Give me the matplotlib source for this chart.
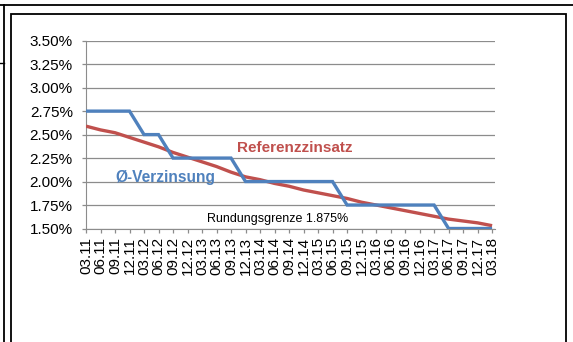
import matplotlib.pyplot as plt
from matplotlib.lines import Line2D
from matplotlib.patches import Rectangle

plt.rcParams['font.family'] = ['Liberation Sans', 'DejaVu Sans']

# quarters 03.11 .. 03.18
quarters = ['03.11', '06.11', '09.11', '12.11', '03.12', '06.12', '09.12', '12.12',
            '03.13', '06.13', '09.13', '12.13', '03.14', '06.14', '09.14', '12.14',
            '03.15', '06.15', '09.15', '12.15', '03.16', '06.16', '09.16', '12.16',
            '03.17', '06.17', '09.17', '12.17', '03.18']

# average interest (step values, %)
verzinsung = [2.75, 2.75, 2.75, 2.75, 2.50, 2.50, 2.25, 2.25,
              2.25, 2.25, 2.25, 2.00, 2.00, 2.00, 2.00, 2.00,
              2.00, 2.00, 1.75, 1.75, 1.75, 1.75, 1.75, 1.75,
              1.75, 1.50, 1.50, 1.50, 1.50]

# reference rate (%)
referenz = [2.59, 2.55, 2.52, 2.47, 2.42, 2.37, 2.31, 2.26,
            2.21, 2.16, 2.10, 2.05, 2.02, 1.98, 1.95, 1.91,
            1.88, 1.85, 1.82, 1.78, 1.75, 1.72, 1.69, 1.66,
            1.63, 1.60, 1.58, 1.56, 1.53]

yticks = [1.50, 1.75, 2.00, 2.25, 2.50, 2.75, 3.00, 3.25, 3.50]

W, H = 573, 342
fig = plt.figure(figsize=(W / 100, H / 100), dpi=100)

def px(x0, y0, x1, y1):
    # pixel box (from top-left) -> figure fraction rect
    return [x0 / W, 1 - y1 / H, (x1 - x0) / W, (y1 - y0) / H]

# page / frame lines around the chart
fig.add_artist(Line2D([0, 1], [1 - 5 / H] * 2, color='black', lw=1.3))
fig.add_artist(Line2D([4 / W] * 2, [0, 1 - 5 / H], color='black', lw=1.3))
fig.add_artist(Line2D([0, 4 / W], [1 - 63 / H] * 2, color='black', lw=1.0))
fig.add_artist(Rectangle((11 / W, -0.05), (566 - 11) / W, 1 - 14 / H + 0.05,
                         transform=fig.transFigure, fill=False,
                         edgecolor='black', lw=1.3))

ax = fig.add_axes(px(86, 40.7, 495, 228.5))
x = list(range(len(quarters)))
ax.plot(x, referenz, color='#C0504D', lw=2.4, solid_capstyle='butt', zorder=3)
ax.plot(x, verzinsung, color='#4F81BD', lw=2.4, solid_capstyle='butt',
        solid_joinstyle='miter', zorder=4)

ax.set_xlim(0, 28.2)
ax.set_ylim(1.5, 3.5)
ax.set_yticks(yticks)
ax.set_yticklabels(['%.2f%%' % v for v in yticks], fontsize=11)
ax.set_xticks(x)
ax.set_xticklabels(quarters, rotation=90, fontsize=11)
ax.grid(axis='y', color='#8C8C8C', lw=0.9)
ax.set_axisbelow(True)
for s in ['top', 'right']:
    ax.spines[s].set_visible(False)
for s in ['left', 'bottom']:
    ax.spines[s].set_color('#8C8C8C')
ax.tick_params(axis='both', color='#8C8C8C', length=3, width=0.9, pad=3)
ax.tick_params(axis='y', pad=6.5)

ax.text(10.4, 2.356, 'Referenzzinsatz', color='#C0504D', fontsize=11,
        fontweight='bold', ha='left', va='center')
ax.text(2.0, 2.04, 'Ø-Verzinsung', color='#4F81BD', fontsize=11.2,
        fontweight='bold', ha='left', va='center')
ax.text(8.35, 1.60, 'Rundungsgrenze 1.875%', color='black', fontsize=9,
        ha='left', va='center')

fig.savefig('out.png', dpi=100)
